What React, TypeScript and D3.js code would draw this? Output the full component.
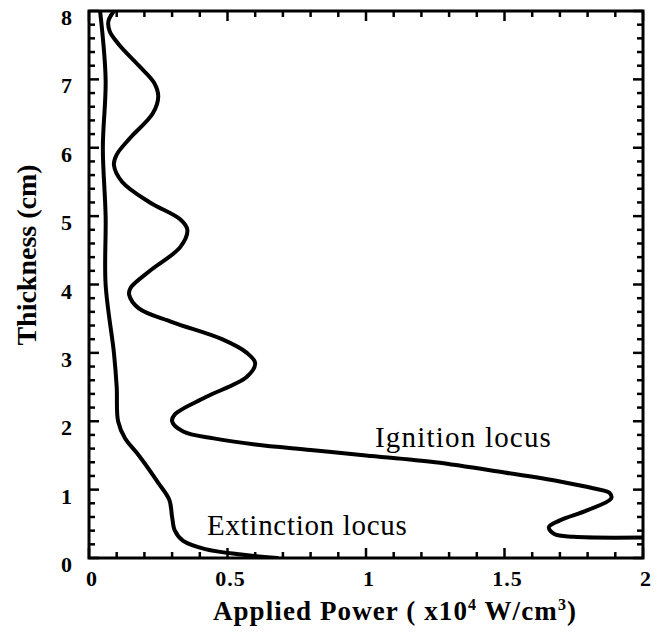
import React from "react";
import * as d3 from "d3";

const ignitionPower = [0.09, 0.07, 0.075, 0.11, 0.18, 0.235, 0.25, 0.23, 0.15, 0.1, 0.09, 0.12, 0.22, 0.33, 0.355, 0.33, 0.22, 0.15, 0.145, 0.18, 0.3, 0.48, 0.57, 0.6, 0.57, 0.42, 0.31, 0.3, 0.34, 0.45, 0.6, 0.8, 1.0, 1.25, 1.5, 1.7, 1.82, 1.88, 1.885, 1.8, 1.7, 1.66, 1.68, 1.75, 2.0];
const ignitionThickness = [8.0, 7.85, 7.7, 7.5, 7.2, 6.95, 6.75, 6.5, 6.15, 5.9, 5.75, 5.5, 5.2, 4.95, 4.8, 4.55, 4.2, 3.95, 3.85, 3.65, 3.45, 3.2, 3.0, 2.85, 2.65, 2.35, 2.1, 2.0, 1.85, 1.75, 1.66, 1.58, 1.5, 1.4, 1.25, 1.12, 1.02, 0.95, 0.87, 0.7, 0.55, 0.45, 0.35, 0.31, 0.3];

const extinctionPower = [0.04, 0.06, 0.05, 0.06, 0.06, 0.09, 0.1, 0.105, 0.13, 0.18, 0.25, 0.29, 0.3, 0.31, 0.34, 0.42, 0.55, 0.68];
const extinctionThickness = [8.0, 7.0, 6.0, 5.0, 4.0, 3.0, 2.5, 2.0, 1.75, 1.5, 1.1, 0.85, 0.6, 0.4, 0.25, 0.13, 0.05, 0.0];

const xTickLabels = ["0", "0.5", "1", "1.5", "2"];
const yTickLabels = ["0", "1", "2", "3", "4", "5", "6", "7", "8"];

const W = 662, H = 633;
const L = 89, R = 643, T = 11, B = 558;
const FONT = "Liberation Serif";

export default function App() {
  const x = d3.scaleLinear().domain([0, 2]).range([L, R]);
  const y = d3.scaleLinear().domain([0, 8]).range([B, T]);

  const line = d3.line<[number, number]>()
    .x(d => x(d[0]))
    .y(d => y(d[1]))
    .curve(d3.curveCatmullRom.alpha(0.5));

  const ign = ignitionPower.map((p, i) => [p, ignitionThickness[i]] as [number, number]);
  const ext = extinctionPower.map((p, i) => [p, extinctionThickness[i]] as [number, number]);

  const xMinor = d3.range(0, 21).map(i => i / 10);
  const yMinor = d3.range(0, 41).map(i => i / 5);

  const boldStyle = { fontFamily: FONT, fontWeight: 700 } as React.CSSProperties;
  const normStyle = { fontFamily: FONT, fontWeight: 400 } as React.CSSProperties;

  return (
    <svg width={W} height={H} style={{ display: "block", position: "absolute", left: 0, top: 0 }}>
      <rect width={W} height={H} fill="#fff" />
      <defs>
        <clipPath id="clip">
          <rect x={L} y={T} width={R - L} height={B - T} />
        </clipPath>
      </defs>
      <g stroke="#000" strokeWidth={2.5}>
        {xMinor.map((v, i) => {
          const major = i % 5 === 0;
          const len = major ? 10 : 6;
          return (
            <g key={"xt" + i}>
              <line x1={x(v)} x2={x(v)} y1={B} y2={B - len} />
              <line x1={x(v)} x2={x(v)} y1={T} y2={T + len} />
            </g>
          );
        })}
        {yMinor.map((v, i) => {
          const major = i % 5 === 0;
          const len = major ? 10 : 6;
          return (
            <g key={"yt" + i}>
              <line x1={L} x2={L + len} y1={y(v)} y2={y(v)} />
              <line x1={R} x2={R - len} y1={y(v)} y2={y(v)} />
            </g>
          );
        })}
      </g>
      <g clipPath="url(#clip)" fill="none" stroke="#000" strokeWidth={4} strokeLinejoin="round" strokeLinecap="round">
        <path d={line(ign) || ""} />
        <path d={line(ext) || ""} />
      </g>
      <rect x={L} y={T} width={R - L} height={B - T} fill="none" stroke="#000" strokeWidth={3} />
      <g style={boldStyle} fontSize={22} fill="#000">
        {xTickLabels.map((t) => (
          <text key={"xl" + t} x={x(+t) + 3} y={586} textAnchor="middle" letterSpacing={1}>{t}</text>
        ))}
        {yTickLabels.map((t) => (
          <text key={"yl" + t} x={72} y={y(+t) + 14} textAnchor="end">{t}</text>
        ))}
      </g>
      <text x={395} y={620} textAnchor="middle" style={boldStyle} fontSize={27} letterSpacing={1.1}>
        Applied Power ( x10<tspan dy={-10} fontSize={16}>4</tspan><tspan dy={10}> W/cm</tspan><tspan dy={-10} fontSize={16}>3</tspan><tspan dy={10}>)</tspan>
      </text>
      <text transform={`translate(36, ${255}) rotate(-90)`} textAnchor="middle" style={boldStyle} fontSize={28}>
        Thickness (cm)
      </text>
      <text x={375} y={447} style={normStyle} fontSize={29} letterSpacing={1.2}>Ignition locus</text>
      <text x={207} y={535} style={normStyle} fontSize={29} letterSpacing={0.7}>Extinction locus</text>
    </svg>
  );
}
